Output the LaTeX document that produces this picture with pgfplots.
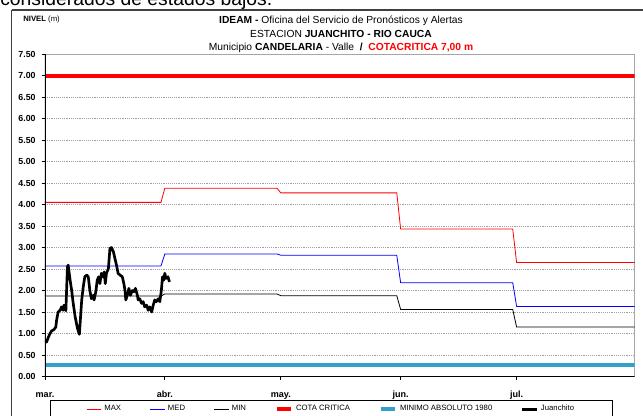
\documentclass[border=0pt]{standalone}
\usepackage{pgfplots}
\pgfplotsset{compat=1.18}
\usepackage{fontspec}
\setmainfont{Liberation Sans}
\definecolor{minabs}{RGB}{51,160,204}
\definecolor{critred}{RGB}{255,0,0}

\begin{document}
\begin{tikzpicture}
\useasboundingbox (0,0) rectangle (482.25pt,-311.25pt);
\begin{scope}[x=0.75pt,y=-0.75pt]
\node[anchor=base west, inner sep=0, font=\fontsize{14.5}{15}\selectfont] at (0,5.3) {considerados de estados bajos.};
\draw[black!75, line width=0.8pt] (11.5,10) -- (11.5,430);
\draw[black!75, line width=0.8pt] (11.5,10) -- (650,10);
\node[anchor=west, inner sep=0, font=\fontsize{5.8}{6}\selectfont] at (23,19) {\textbf{NIVEL} (m)};
\node[anchor=base, inner sep=0, font=\fontsize{7.7}{9}\selectfont] at (341,23) {\textbf{IDEAM -} Oficina del Servicio de Pronósticos y Alertas};
\node[anchor=base, inner sep=0, font=\fontsize{7.7}{9}\selectfont] at (341,37) {ESTACION\textbf{ JUANCHITO - RIO CAUCA}};
\node[anchor=base, inner sep=0, font=\fontsize{7.7}{9}\selectfont] at (341,50.3) {Municipio \textbf{CANDELARIA} - Valle \ \textbf{/}\ \ \textcolor{critred}{\textbf{COTACRITICA 7,00 m}}};
\end{scope}
\begin{axis}[
  at={(33.75pt,-282.375pt)}, anchor=south west,
  width=442.125pt, height=241.875pt, scale only axis,
  xmin=0, xmax=152.5, ymin=0, ymax=7.5,
  axis line style={draw=gray!70, line width=0.6pt},
  ytick={0,0.5,1,1.5,2,2.5,3,3.5,4,4.5,5,5.5,6,6.5,7,7.5},
  xtick={0,31,61,92,122},
  xticklabels={mar.,abr.,may.,jun.,jul.},
  tick align=outside, tick pos=left,
  major tick length=2.5pt,
  tick style={black, line width=0.6pt},
  ymajorgrids, grid style={densely dotted, gray!75, line width=0.5pt},
  yticklabel style={font=\bfseries\fontsize{6.6}{7}\selectfont, xshift=-1pt},
  xticklabel style={font=\bfseries\fontsize{6.8}{7}\selectfont, anchor=base, yshift=-13.5pt},
  /pgf/number format/.cd, fixed, fixed zerofill, precision=2, assume math mode=true,
  /pgfplots/.cd,
  legend columns=6,
  legend style={at={(0.486,0)}, anchor=north, yshift=-17.6pt, draw=black, line width=0.5pt,
    font=\fontsize{5.8}{6.5}\selectfont, inner xsep=27pt, inner ysep=1.8pt,
    /tikz/every even column/.append style={column sep=19.5pt}},
  legend image code/.code={\draw[#1] (0pt,0pt) -- (11pt,0pt);},
  legend cell align=left,
]
\addplot[red, line width=0.6pt] coordinates {(0,4.05) (30,4.05) (31,4.38) (60,4.38) (61,4.27) (91,4.27) (92,3.43) (121,3.43) (122,2.65) (152.5,2.65)};
\addlegendentry{MAX}
\addplot[blue, line width=0.6pt] coordinates {(0,2.57) (30,2.57) (31,2.85) (60,2.85) (61,2.82) (91,2.82) (92,2.18) (121,2.18) (122,1.63) (152.5,1.63)};
\addlegendentry{MED}
\addplot[black, line width=0.6pt] coordinates {(0,1.87) (30,1.87) (31,1.92) (60,1.92) (61,1.88) (91,1.88) (92,1.56) (121,1.56) (122,1.15) (152.5,1.15)};
\addlegendentry{MIN}
\addplot[critred, line width=3pt] coordinates {(0,7) (152.5,7)};
\addlegendentry{COTA CRITICA}
\addplot[minabs, line width=3pt] coordinates {(0,0.27) (152.5,0.27)};
\addlegendentry{MINIMO ABSOLUTO 1980}
\addplot[black, line width=2pt, line join=round] coordinates {
(0,0.84) (0.4,0.80) (0.9,0.92) (1.3,1.0) (1.7,1.06) (2.3,1.09) (2.8,1.15) (3.0,1.31) (3.4,1.50)
(3.9,1.54) (4.3,1.62) (4.7,1.54) (4.9,1.66) (5.4,1.53) (5.8,2.55) (6.0,2.59) (6.5,2.24) (6.9,2.0)
(7.3,1.70) (7.8,1.39) (8.4,1.12) (8.9,0.98) (9.2,1.39) (9.5,1.78) (9.9,2.09) (10.3,2.32) (10.8,2.36)
(11.2,2.32) (11.6,2.0) (12.0,1.81) (12.5,1.89) (12.7,1.78) (13.2,2.0) (13.5,2.24) (13.9,2.32)
(14.2,2.16) (14.6,2.40) (15.0,2.32) (15.3,2.43) (15.6,2.16) (15.9,2.40) (16.4,2.51) (16.8,2.98)
(17.2,3.0) (17.7,2.90) (18.1,2.74) (18.5,2.59) (18.9,2.40) (19.4,2.36) (20.0,2.32) (20.4,2.16)
(20.7,2.0) (20.9,1.78) (21.3,1.89) (21.7,2.05) (22.1,1.89) (22.6,2.0) (23.0,1.97) (23.4,2.05)
(23.9,1.89) (24.1,1.78) (24.5,1.81) (25.0,1.70) (25.4,1.74) (25.8,1.62) (26.3,1.66) (26.7,1.54)
(27.1,1.62) (27.6,1.50) (28.0,1.66) (28.4,1.78) (28.8,1.74) (29.3,1.81) (29.7,1.74) (30.1,2.0)
(30.4,2.32) (30.7,2.24) (31.0,2.40) (31.3,2.28) (31.8,2.32) (32.2,2.20)};
\addlegendentry{Juanchito}
\draw[black, line width=0.8pt] (rel axis cs:0,0) -- (rel axis cs:0,1);
\draw[black, line width=0.8pt] (rel axis cs:0,0) -- (rel axis cs:1,0);
\end{axis}
\end{tikzpicture}
\end{document}
